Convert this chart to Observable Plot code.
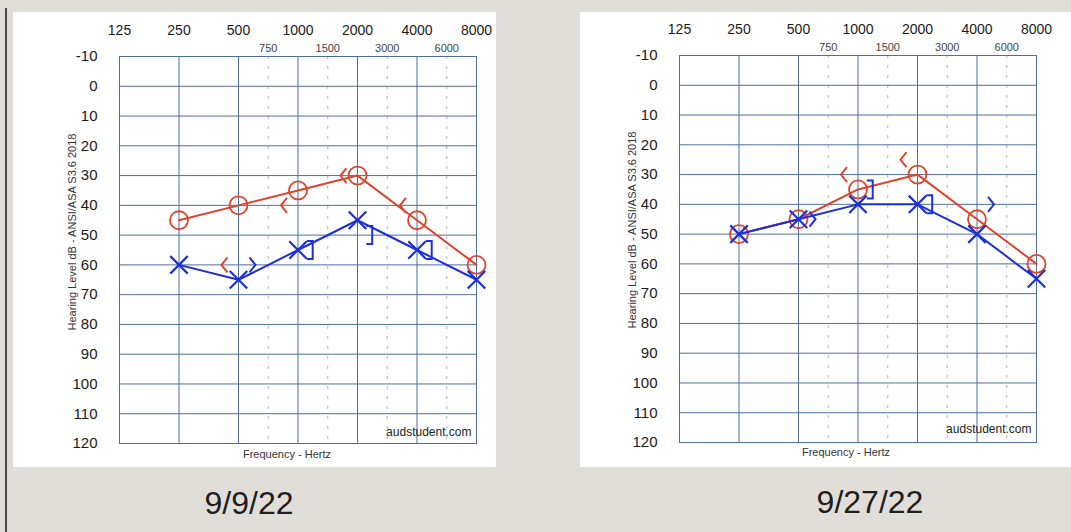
<!DOCTYPE html>
<html><head><meta charset="utf-8">
<script src="https://cdn.jsdelivr.net/npm/d3@7"></script>
<script src="https://cdn.jsdelivr.net/npm/@observablehq/plot@0.6"></script>
<style>
html,body{margin:0;padding:0;}
body{width:1071px;height:532px;background:#e1ddd9;position:relative;overflow:hidden;font-family:"Liberation Sans",Arial,sans-serif;}
.edge{position:absolute;left:5px;top:8px;width:2px;height:524px;background:#4a4a4a;}
.panel{position:absolute;background:#fff;top:12px;height:455px;}
.panel svg{display:block;}
.date{position:absolute;font-size:32px;color:#1e1e1e;transform:translate(-50%,-50%);white-space:nowrap;}
</style></head>
<body>
<div class="edge"></div>
<script>
// ---- data ----
const dates = ["9/9/22", "9/27/22"];
const freqs = [250, 500, 1000, 2000, 4000, 8000];
const octaveTicks = [125, 250, 500, 1000, 2000, 4000, 8000];
const midTicks = [750, 1500, 3000, 6000];
const dbTicks = [-10, 0, 10, 20, 30, 40, 50, 60, 70, 80, 90, 100, 110, 120];
const yLabel = "Hearing Level dB - ANSI/ASA S3.6 2018";
const xLabel = "Frequency - Hertz";
const credit = "audstudent.com";

// 9/9/22
const rightAir1 = [45, 40, 35, 30, 45, 60];
const leftAir1 = [60, 65, 55, 45, 55, 65];
const rightBoneFreq1 = [500, 1000, 2000, 4000];
const rightBone1 = [60, 40, 30, 40];
const leftBoneFreq1 = [500];
const leftBone1 = [60];
const leftMaskedFreq1 = [1000, 2000, 4000];
const leftMasked1 = [55, 50, 55];

// 9/27/22
const rightAir2 = [50, 45, 35, 30, 45, 60];
const leftAir2 = [50, 45, 40, 40, 50, 65];
const rightBoneFreq2 = [1000, 2000];
const rightBone2 = [30, 25];
const leftBoneFreq2 = [500, 4000];
const leftBone2 = [45, 40];
const leftMaskedFreq2 = [1000, 2000];
const leftMasked2 = [35, 40];

// ---- helpers ----
const RED = "#e0432c", BLUE = "#1d30d8", GRID = "#4f6f9f";
const fmt = d => String(d);
function octavePos(f) {
  const i = Math.floor(Math.log2(f / 125) + 1e-9);
  const base = 125 * Math.pow(2, i);
  return i + (f / base - 1);
}
const rows = (fs, vs) => fs.map((f, i) => ({f, db: vs[i]}));
const chevLeft = {draw(ctx, size) { const r = Math.sqrt(size / Math.PI); ctx.moveTo(r * 0.4, -r); ctx.lineTo(-r * 0.4, 0); ctx.lineTo(r * 0.4, r); }};
const chevRight = {draw(ctx, size) { const r = Math.sqrt(size / Math.PI); ctx.moveTo(-r * 0.4, -r); ctx.lineTo(r * 0.4, 0); ctx.lineTo(-r * 0.4, r); }};
const bracketRight = {draw(ctx, size) { const r = Math.sqrt(size / Math.PI); ctx.moveTo(-r * 0.35, -r); ctx.lineTo(r * 0.3, -r); ctx.lineTo(r * 0.3, r); ctx.lineTo(-r * 0.35, r); }};

function audiogram(c) {
  return Plot.plot({
    width: c.width, height: 455,
    marginLeft: c.ml, marginRight: c.mr, marginTop: c.mt, marginBottom: c.mb,
    style: {background: "#fff", fontFamily: "Liberation Sans, Arial, sans-serif", color: "#1a1a1a", overflow: "visible"},
    x: {type: "linear", transform: octavePos, domain: [0, 6], axis: null},
    y: {domain: [-10, 120], reverse: true, axis: null},
    marks: [
      Plot.ruleX(midTicks, {x: d => d, stroke: "#b4b4b4", strokeDasharray: "3,7", strokeWidth: 1}),
      Plot.gridY(dbTicks, {stroke: GRID, strokeOpacity: 1, strokeWidth: 1}),
      Plot.gridX(octaveTicks, {stroke: GRID, strokeOpacity: 1, strokeWidth: 1}),
      Plot.frame({stroke: GRID, strokeWidth: 1}),
      Plot.axisX(octaveTicks, {anchor: "top", label: null, tickSize: 0, tickPadding: 22, fontSize: 14, tickFormat: fmt, color: "#1a1a1a"}),
      Plot.axisX(midTicks, {anchor: "top", label: null, tickSize: 0, tickPadding: 5, fontSize: 11, tickFormat: fmt, color: "#444"}),
      Plot.axisY(dbTicks, {anchor: "left", label: null, tickSize: 0, tickPadding: 22, fontSize: 15, tickFormat: fmt, color: "#1a1a1a"}),
      Plot.text([yLabel], {frameAnchor: "left", textAnchor: "middle", rotate: -90, dx: -47, dy: c.ldy, fontSize: 11, fill: "#333"}),
      Plot.text([xLabel], {frameAnchor: "bottom", dx: c.xdx, dy: c.xdy, fontSize: 11, fill: "#333"}),
      Plot.text([credit], {frameAnchor: "bottom-right", textAnchor: "end", dx: -5, dy: c.cdy, fontSize: 12, fill: "#222"}),
      // right ear (red)
      Plot.line(rows(freqs, c.rAir), {x: "f", y: "db", stroke: RED, strokeWidth: 2}),
      Plot.dot(rows(freqs, c.rAir), {x: "f", y: "db", r: 9, stroke: RED, strokeWidth: 1.8, fill: "none"}),
      Plot.dot(rows(c.rBoneF, c.rBone), {x: "f", y: "db", symbol: chevLeft, r: 7.5, dx: -14, stroke: RED, strokeWidth: 2, fill: "none"}),
      // left ear (blue)
      Plot.line(rows(freqs, c.lAir), {x: "f", y: "db", stroke: BLUE, strokeWidth: 2}),
      Plot.dot(rows(freqs, c.lAir), {x: "f", y: "db", symbol: "times", r: 8, stroke: BLUE, strokeWidth: 2.2}),
      Plot.dot(rows(c.lBoneF, c.lBone), {x: "f", y: "db", symbol: chevRight, r: 7.5, dx: 14, stroke: BLUE, strokeWidth: 2, fill: "none"}),
      Plot.dot(rows(c.lMaskF, c.lMask), {x: "f", y: "db", symbol: bracketRight, r: 9, dx: 12, stroke: BLUE, strokeWidth: 2, fill: "none"})
    ]
  });
}

const configs = [
  {left: 13, width: 483, ml: 106, mr: 20, mt: 44, mb: 24, ldy: -18, xdx: -11, xdy: 14, cdy: -8,
   rAir: rightAir1, lAir: leftAir1, rBoneF: rightBoneFreq1, rBone: rightBone1,
   lBoneF: leftBoneFreq1, lBone: leftBone1, lMaskF: leftMaskedFreq1, lMask: leftMasked1, dateX: 249, dateY: 503},
  {left: 580, width: 491, ml: 99, mr: 35, mt: 43, mb: 25, ldy: -19, xdx: -12, xdy: 13, cdy: -10,
   rAir: rightAir2, lAir: leftAir2, rBoneF: rightBoneFreq2, rBone: rightBone2,
   lBoneF: leftBoneFreq2, lBone: leftBone2, lMaskF: leftMaskedFreq2, lMask: leftMasked2, dateX: 870, dateY: 502}
];

configs.forEach((c, k) => {
  const panel = document.createElement("div");
  panel.className = "panel";
  panel.style.left = c.left + "px";
  panel.style.width = c.width + "px";
  panel.appendChild(audiogram(c));
  document.body.appendChild(panel);
  const d = document.createElement("div");
  d.className = "date";
  d.style.left = c.dateX + "px";
  d.style.top = c.dateY + "px";
  d.textContent = dates[k];
  document.body.appendChild(d);
});
</script>
</body></html>
